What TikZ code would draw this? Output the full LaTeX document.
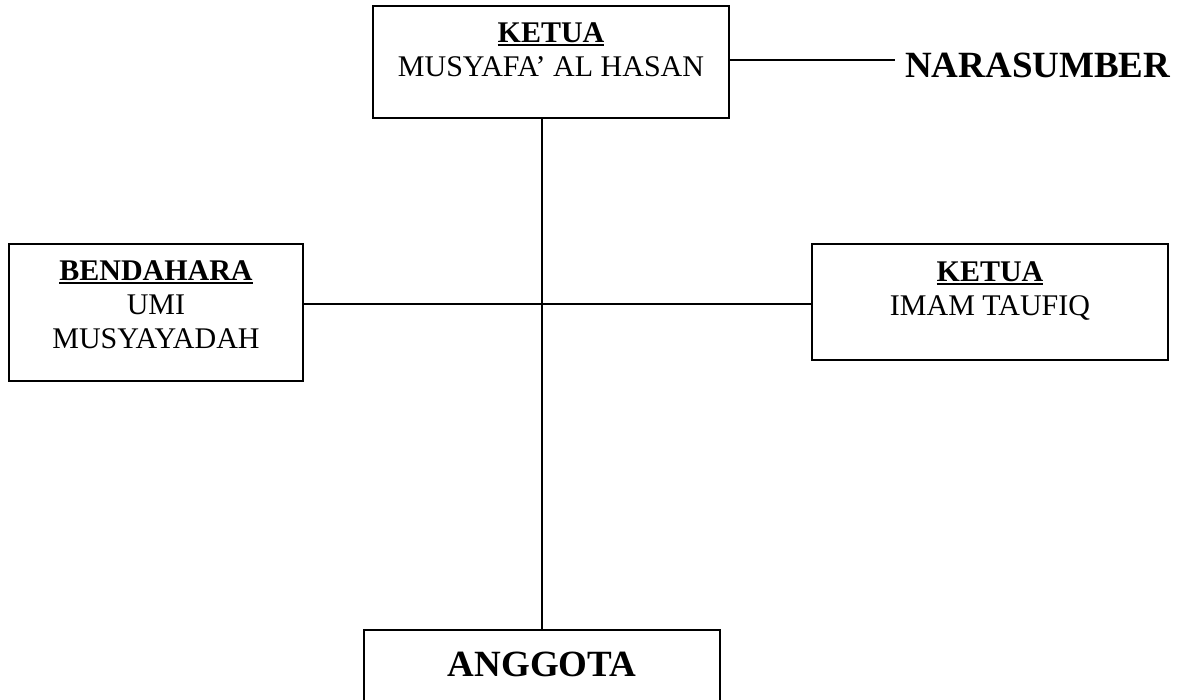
\documentclass[tikz,border=0pt]{standalone}
\usepackage{fontspec}
\setmainfont{Liberation Serif}
\newcommand\ulbf[1]{\vtop{\hbox{\bfseries #1}\kern1.2pt\hrule height 1.8pt}}
\begin{document}
\begin{tikzpicture}[x=1pt,y=-1pt,
  box/.style={draw,line width=1.4pt,inner sep=0pt},
  conn/.style={line width=1.1pt},
  lbl/.style={anchor=base,inner sep=0pt,font=\fontsize{30}{34}\selectfont},
  big/.style={inner sep=0pt,font=\fontsize{37}{42}\selectfont\bfseries}]
\useasboundingbox (0,0) rectangle (1187,700);
% boxes
\node[box,minimum width=356pt,minimum height=112pt] (ketua) at (551,62) {};
\node[box,minimum width=294pt,minimum height=137pt] (bend) at (156,312.5) {};
\node[box,minimum width=356pt,minimum height=116pt] (ketuab) at (990,302) {};
\begin{scope}
\clip (0,0) rectangle (1187,700);
\node[box,minimum width=356pt,minimum height=110pt] (anggota) at (542,685) {};
\end{scope}
% texts
\node[lbl] (ketuaT) at (551,43) {\ulbf{KETUA}};
\node[lbl] (ketuaN) at (551,77) {MUSYAFA’ AL HASAN};
\node[lbl] (bendT) at (156,281) {\ulbf{BENDAHARA}};
\node[lbl] (bendN1) at (156,315) {UMI};
\node[lbl] (bendN2) at (156,349) {MUSYAYADAH};
\node[lbl] (ketuabT) at (990,282) {\ulbf{KETUA}};
\node[lbl] (ketuabN) at (990,316) {IMAM TAUFIQ};
\node[big,anchor=base] (anggotaT) at (542,676) {ANGGOTA};
\node[big,anchor=base west] (nara) at (905,78) {NARASUMBER};
% connectors
\draw[conn] (ketua.east |- 0,60) -- ([xshift=-10pt]nara.west |- 0,60);
\draw[conn] (anggota.north |- ketua.south) -- (anggota.north);
\draw[conn] (bend.east |- 0,304) -- (ketuab.west |- 0,304);
\end{tikzpicture}
\end{document}
